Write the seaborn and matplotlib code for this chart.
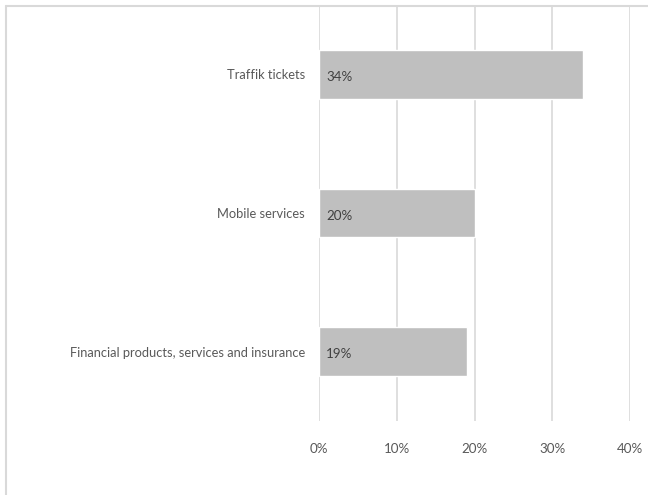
import matplotlib
matplotlib.use("Agg")
import matplotlib.pyplot as plt
import seaborn as sns
import pandas as pd
from matplotlib.lines import Line2D

categories = ["Traffik tickets", "Mobile services", "Financial products, services and insurance"]
values = [0.34, 0.20, 0.19]
labels = ["34%", "20%", "19%"]
xticks = [0.0, 0.1, 0.2, 0.3, 0.4]
xticklabels = ["0%", "10%", "20%", "30%", "40%"]

sns.set_theme(style="white")
plt.rcParams['font.family'] = ['Lato', 'DejaVu Sans']

df = pd.DataFrame({"category": categories, "value": values})

W, H = 648, 495
fig = plt.figure(figsize=(W / 100, H / 100), dpi=100)
ax = fig.add_axes([319 / W, 1 - 421 / H, (630 - 319) / W, (421 - 5) / H])

sns.barplot(data=df, x="value", y="category", color="#bfbfbf", width=0.35,
            saturation=1, ax=ax, orient="h")

ax.set_xlim(0, 0.4)
ax.set_ylim(2.5, -0.5)
ax.set_xticks(xticks)
ax.set_xticklabels(xticklabels, color="#595959", fontsize=9.6)
ax.tick_params(axis="x", length=0, pad=16)
ax.tick_params(axis="y", length=0, pad=10, labelcolor="#595959", labelsize=9.3)
ax.set_xlabel("")
ax.set_ylabel("")
ax.grid(axis="x", color="#d9d9d9", linewidth=1.2)
ax.set_axisbelow(True)
for s in ax.spines.values():
    s.set_visible(False)

for i, (v, lab) in enumerate(zip(values, labels)):
    ax.text(0.009, i + 0.02, lab, va="center", ha="left", color="#404040", fontsize=9.6)

# outer chart border (partially cropped)
fig.add_artist(Line2D([6 / W, 6 / W], [0, 1 - 6 / H], transform=fig.transFigure,
                      color="#d9d9d9", linewidth=1.5))
fig.add_artist(Line2D([6 / W, 1], [1 - 6 / H, 1 - 6 / H], transform=fig.transFigure,
                      color="#d9d9d9", linewidth=1.5))

fig.savefig("out.png", dpi=100)
